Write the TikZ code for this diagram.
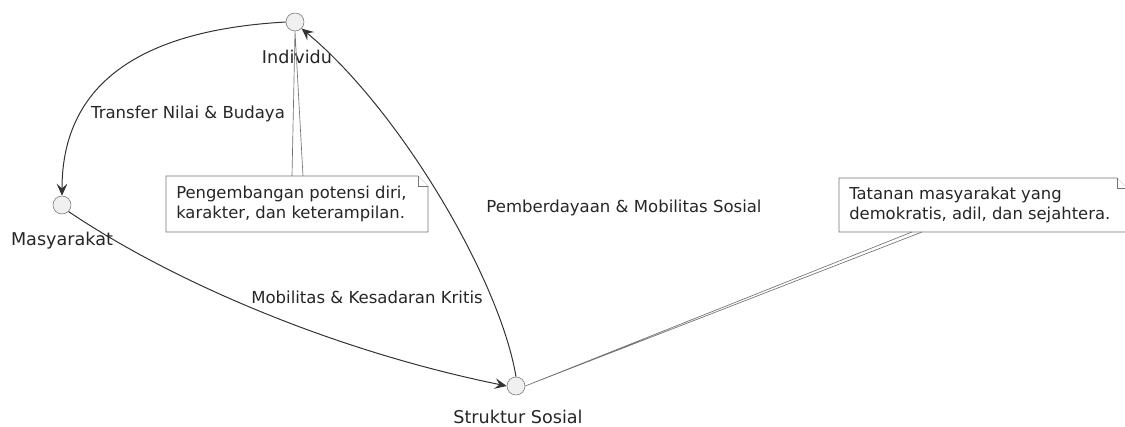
\documentclass[tikz,border=0pt]{standalone}
\usepackage{fontspec}
\setmainfont{DejaVu Sans}
\usetikzlibrary{arrows.meta}

\tikzset{
  state/.style={circle, draw=black!55, fill=black!6, minimum size=13.5pt, inner sep=0pt},
  lbl/.style={font=\fontsize{13.2}{15}\selectfont, text=black!85, inner sep=0pt},
  elbl/.style={font=\fontsize{12.4}{15}\selectfont, text=black!85, inner sep=0pt},
  edge/.style={draw=black!80, line width=0.75pt, -{Stealth[length=9pt, width=8pt, inset=3.5pt]}},
  notebox/.style={draw=black!55, fill=white, line width=0.5pt},
  notetxt/.style={font=\fontsize{12.3}{15}\selectfont, align=left, anchor=west, inner sep=0pt, text=black!85},
}

\begin{document}
\begin{tikzpicture}[x=0.75pt, y=-0.75pt]
    \useasboundingbox (0, 0) rectangle (1125, 427);

    % states
    \node[state] (ind) at (295, 22) {};
    \node[state] (mas) at (62, 205) {};
    \node[state] (str) at (516, 386) {};

    \node[lbl] (indl) at (297, 57) {Individu};
    \node[lbl] (masl) at (62, 241) {Masyarakat};
    \node[lbl] (strl) at (518, 417) {Struktur Sosial};

    % notes
    \draw[notebox] (166, 176) -- (418, 176) -- (428, 186) -- (428, 232) -- (166, 232) -- cycle;
    \draw[notebox] (418, 176) -- (418, 186) -- (428, 186);
    \node[notetxt] (n1) at (176, 204) {Pengembangan potensi diri,\\karakter, dan keterampilan.};
    \draw[black!55, line width=0.5pt] (292, 176) -- (ind.south) -- (303, 176);

    \draw[notebox] (839, 178) -- (1117, 178) -- (1127, 188) -- (1127, 232) -- (839, 232) -- cycle;
    \draw[notebox] (1117, 178) -- (1117, 188) -- (1127, 188);
    \node[notetxt] (n2) at (849, 205) {Tatanan masyarakat yang\\demokratis, adil, dan sejahtera.};
    \draw[black!55, line width=0.5pt] (912, 232) -- (str.east) -- (922, 232);

    % connectors
    \draw[edge] (ind.west) .. controls (180, 28) and (62, 60) .. (mas.north);
    \draw[edge] (mas.south east) .. controls (170, 280) and (330, 350) .. (str.west);
    \draw[edge] (str.north) .. controls (500, 280) and (400, 110) .. (ind.south east);

    \node[elbl] (l1) at (188, 114) {Transfer Nilai \& Budaya};
    \node[elbl] (l2) at (367, 297) {Mobilitas \& Kesadaran Kritis};
    \node[elbl] (l3) at (624, 208) {Pemberdayaan \& Mobilitas Sosial};
\end{tikzpicture}
\end{document}
